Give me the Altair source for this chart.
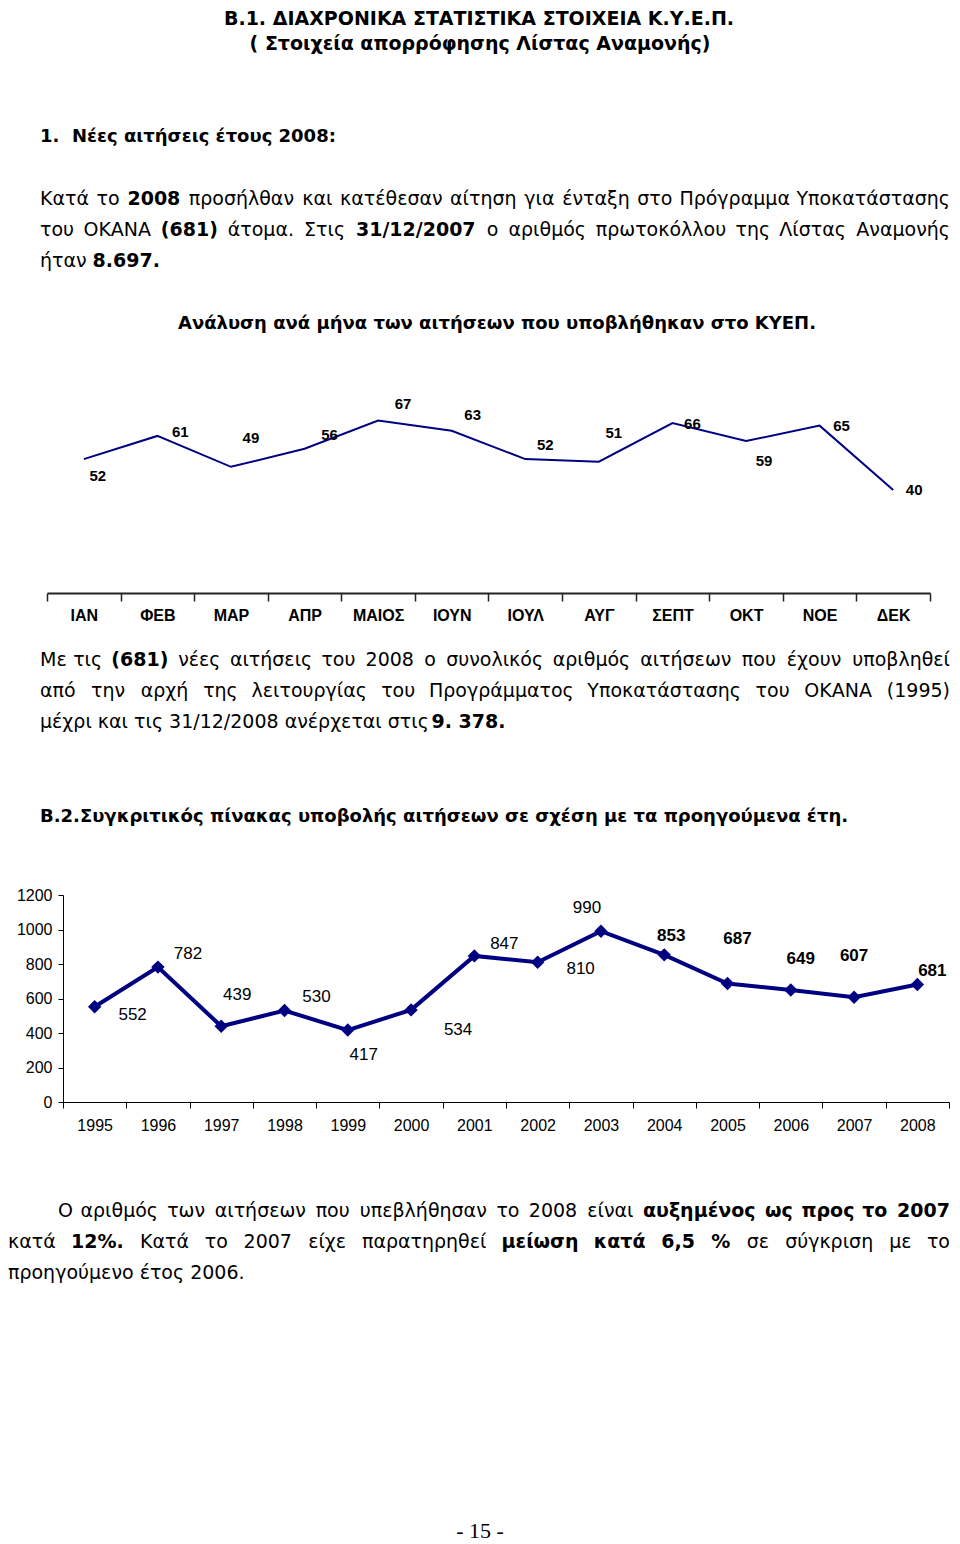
import altair as alt
import pandas as pd

# ---------------- data ----------------
MONTHS = ["ΙΑΝ", "ΦΕΒ", "ΜΑΡ", "ΑΠΡ", "ΜΑΙΟΣ", "ΙΟΥΝ", "ΙΟΥΛ", "ΑΥΓ", "ΣΕΠΤ", "ΟΚΤ", "ΝΟΕ", "ΔΕΚ"]
MONTHLY = [52, 61, 49, 56, 67, 63, 52, 51, 66, 59, 65, 40]

YEARS = ["1995", "1996", "1997", "1998", "1999", "2000", "2001",
         "2002", "2003", "2004", "2005", "2006", "2007", "2008"]
YEARLY = [552, 782, 439, 530, 417, 534, 847, 810, 990, 853, 687, 649, 607, 681]
BOLD_YEAR_LABELS = ["2004", "2005", "2006", "2007", "2008"]
Y_TICKS = [0, 200, 400, 600, 800, 1000, 1200]

TITLE_1 = "Β.1. ΔΙΑΧΡΟΝΙΚΑ ΣΤΑΤΙΣΤΙΚΑ ΣΤΟΙΧΕΙΑ Κ.Υ.Ε.Π."
TITLE_2 = "( Στοιχεία απορρόφησης Λίστας Αναμονής)"
HEAD_1 = "1.\u00a0 Νέες αιτήσεις έτους 2008:"
HEAD_CHART1 = "Ανάλυση ανά μήνα των αιτήσεων που υποβλήθηκαν στο ΚΥΕΠ."
HEAD_2 = "Β.2.Συγκριτικός πίνακας υποβολής αιτήσεων σε σχέση με τα προηγούμενα έτη."
FOOTER = "- 15 -"

P1 = [
    [("Κατά το ", False), ("2008", True),
     (" προσήλθαν και κατέθεσαν αίτηση για ένταξη στο Πρόγραμμα Υποκατάστασης", False)],
    [("του ΟΚΑΝΑ ", False), ("(681)", True), (" άτομα. Στις ", False), ("31/12/2007", True),
     (" ο αριθμός πρωτοκόλλου της Λίστας Αναμονής", False)],
    [("ήταν", False), ("8.697.", True)],
]
P2 = [
    [("Με τις ", False), ("(681)", True),
     (" νέες αιτήσεις του 2008 ο συνολικός αριθμός αιτήσεων που έχουν υποβληθεί", False)],
    [("από την αρχή της λειτουργίας του Προγράμματος Υποκατάστασης του ΟΚΑΝΑ (1995)", False)],
    [("μέχρι και τις 31/12/2008 ανέρχεται στις", False), ("9. 378.", True)],
]
P3 = [
    [("Ο αριθμός των αιτήσεων που υπεβλήθησαν το 2008 είναι ", False),
     ("αυξημένος ως προς το 2007", True)],
    [("κατά ", False), ("12%.", True), (" Κατά το 2007 είχε παρατηρηθεί ", False),
     ("μείωση κατά 6,5 %", True), (" σε σύγκριση με το", False)],
    [("προηγούμενο έτος 2006.", False)],
]

# ---------------- layout (page pixels) ----------------
W, H = 944, 1536
M = 8  # page margin


def px(v):
    return v - M


BODY_FONT = "DejaVu Sans"
BODY = 19
HEAD = 18
NAVY = "#000080"
CHART_FONT = "Liberation Sans"

# chart 1 geometry
C1_X = (47, 930)
C1_Y = (593, 387)  # value 0 -> 593, value 80 -> 387
# chart 2 geometry
C2_X = (63, 949)
C2_Y = (1102, 895)  # 0 -> 1102, 1200 -> 895

# label offsets (dx, dy) as placed in the original
C1_OFF = {"ΙΑΝ": (14, 17), "ΦΕΒ": (23, -4), "ΜΑΡ": (20, -29), "ΑΠΡ": (25, -14),
          "ΜΑΙΟΣ": (25, -16), "ΙΟΥΝ": (21, -16), "ΙΟΥΛ": (20, -14), "ΑΥΓ": (15, -29),
          "ΣΕΠΤ": (20, 1), "ΟΚΤ": (18, 20), "ΝΟΕ": (22, 0), "ΔΕΚ": (21, 0)}
C2_OFF = {"1995": (38, 8), "1996": (30, -13), "1997": (16, -31), "1998": (32, -14),
          "1999": (16, 25), "2000": (47, 20), "2001": (30, -12), "2002": (43, 7),
          "2003": (-14, -23), "2004": (7, -19), "2005": (10, -44), "2006": (10, -31),
          "2007": (0, -41), "2008": (15, -14)}

# ---------------- text helpers ----------------
CHAR_W = {' ': 0.318, '.': 0.318, ',': 0.318, ':': 0.337, '/': 0.337, '(': 0.39, ')': 0.39,
          '%': 0.95, '-': 0.361,
          'ι': 0.338, 'ί': 0.338, 'α': 0.659, 'ά': 0.659, 'ο': 0.612, 'ό': 0.612,
          'ε': 0.541, 'έ': 0.541, 'η': 0.634, 'ή': 0.634, 'ς': 0.533, 'σ': 0.635,
          'τ': 0.562, 'ν': 0.592, 'υ': 0.579, 'ύ': 0.579, 'κ': 0.579, 'ρ': 0.635,
          'π': 0.603, 'μ': 0.636, 'λ': 0.592, 'θ': 0.612, 'γ': 0.592, 'χ': 0.592,
          'ξ': 0.547, 'ω': 0.837, 'ώ': 0.837, 'β': 0.635, 'φ': 0.76, 'δ': 0.612}


def text_w(s, bold, size):
    t = 0.0
    for ch in s:
        if ch in CHAR_W:
            t += CHAR_W[ch]
        elif ch.isdigit():
            t += 0.636
        elif ch.isupper():
            t += 0.70
        else:
            t += 0.60
    return t * size * (1.1 if bold else 1.0)


rows = []


def add(text, x, y, bold, align, size=BODY, font=BODY_FONT):
    rows.append(dict(text=text, x=px(x), y=px(y), bold=bold, align=align,
                     size=size, font=font))


def add_justified(segments, y, x0, x1, size=BODY):
    words = [(w, b) for t, b in segments for w in t.split()]
    widths = [text_w(w, b, size) for w, b in words]
    gap = (x1 - x0 - sum(widths)) / (len(words) - 1)
    x = x0
    for i, ((w, b), wd) in enumerate(zip(words, widths)):
        if i == 0:
            add(w, x0, y, b, "left", size)
        elif i == len(words) - 1:
            add(w, x1, y, b, "right", size)
        else:
            add(w, x + wd / 2, y, b, "center", size)
        x += wd + gap


def add_plain(segments, y, x0, size=BODY):
    x = x0
    for t, b in segments:
        t = t.strip()
        add(t, x, y, b, "left", size)
        x += text_w(t, b, size) + 0.318 * size


add(TITLE_1, 479, 19, True, "center", 19)
add(TITLE_2, 480, 44, True, "center", 19)
add(HEAD_1, 40, 137, True, "left", HEAD)
add_justified(P1[0], 199, 40, 950)
add_justified(P1[1], 230, 40, 950)
add_plain(P1[2], 261, 40)
add(HEAD_CHART1, 497, 324, True, "center", HEAD)
add_justified(P2[0], 660, 40, 950)
add_justified(P2[1], 691, 40, 950)
add_plain(P2[2], 722, 40)
add(HEAD_2, 40, 817, True, "left", HEAD)
add_justified(P3[0], 1211, 58, 950)
add_justified(P3[1], 1242, 8, 950)
add_plain(P3[2], 1273, 8)
add(FOOTER, 480, 1531, False, "center", 22, "Liberation Serif")

tdf = pd.DataFrame(rows)

layers = []
for (bold, align, size, font), sub in tdf.groupby(["bold", "align", "size", "font"]):
    layers.append(
        alt.Chart(sub).mark_text(
            align=align, baseline="middle", fontSize=float(size), font=font,
            fontWeight="bold" if bold else "normal", color="black"
        ).encode(
            x=alt.X("x:Q", scale=None, axis=None),
            y=alt.Y("y:Q", scale=None, axis=None),
            text="text:N",
        )
    )

# ---------------- chart 1: monthly ----------------
mdf = pd.DataFrame({"month": MONTHS, "value": MONTHLY})
m_xscale = alt.Scale(domain=MONTHS, range=[px(C1_X[0]), px(C1_X[1])],
                     paddingInner=0, paddingOuter=0)
m_yscale = alt.Scale(domain=[0, 80], range=[px(C1_Y[0]), px(C1_Y[1])], nice=False)

m_axis = alt.Axis(orient="bottom", offset=px(C1_Y[0]) - H, title=None, tickBand="extent",
                  tickSize=8, tickColor="#222222", tickWidth=1.5, domainColor="#222222",
                  domainWidth=2, labelFont=CHART_FONT, labelFontSize=16,
                  labelFontWeight="bold", labelColor="black", labelPadding=6,
                  labelAngle=0, labelOverlap=False, grid=False)

layers.append(
    alt.Chart(mdf).mark_line(color=NAVY, strokeWidth=2).encode(
        x=alt.X("month:N", sort=MONTHS, scale=m_xscale, axis=m_axis),
        y=alt.Y("value:Q", scale=m_yscale, axis=None),
    )
)
for m in MONTHS:
    dx, dy = C1_OFF[m]
    layers.append(
        alt.Chart(mdf).mark_text(
            dx=dx, dy=dy, fontSize=15, font=CHART_FONT, fontWeight="bold",
            color="black", baseline="middle", align="center"
        ).transform_filter(alt.datum.month == m).encode(
            x=alt.X("month:N", sort=MONTHS, scale=m_xscale, axis=None),
            y=alt.Y("value:Q", scale=m_yscale, axis=None),
            text="value:Q",
        )
    )

# ---------------- chart 2: yearly ----------------
ydf = pd.DataFrame({"year": YEARS, "value": YEARLY})
y_xscale = alt.Scale(domain=YEARS, range=[px(C2_X[0]), px(C2_X[1])],
                     paddingInner=0, paddingOuter=0)
y_yscale = alt.Scale(domain=[0, 1200], range=[px(C2_Y[0]), px(C2_Y[1])], nice=False)

yx_axis = alt.Axis(orient="bottom", offset=px(C2_Y[0]) - H, title=None, tickBand="extent",
                   tickSize=6, tickColor="black", domainColor="black", domainWidth=1,
                   labelFont=CHART_FONT, labelFontSize=16, labelColor="black",
                   labelPadding=9, labelAngle=0, labelOverlap=False, grid=False)
yy_axis = alt.Axis(orient="left", offset=-px(C2_X[0]), title=None, values=Y_TICKS,
                   format="d", tickSize=5, tickColor="black", domainColor="black",
                   domainWidth=1, labelFont=CHART_FONT, labelFontSize=16,
                   labelColor="black", labelPadding=6, labelFlush=False,
                   labelOverlap=False, grid=False)

layers.append(
    alt.Chart(ydf).mark_line(color=NAVY, strokeWidth=4).encode(
        x=alt.X("year:N", sort=YEARS, scale=y_xscale, axis=yx_axis),
        y=alt.Y("value:Q", scale=y_yscale, axis=yy_axis),
    )
)
layers.append(
    alt.Chart(ydf).mark_point(shape="diamond", filled=True, size=180, color=NAVY,
                              opacity=1).encode(
        x=alt.X("year:N", sort=YEARS, scale=y_xscale, axis=None),
        y=alt.Y("value:Q", scale=y_yscale, axis=None),
    )
)
for yr in YEARS:
    dx, dy = C2_OFF[yr]
    layers.append(
        alt.Chart(ydf).mark_text(
            dx=dx, dy=dy, fontSize=17, font=CHART_FONT,
            fontWeight="bold" if yr in BOLD_YEAR_LABELS else "normal",
            color="black", baseline="middle", align="center"
        ).transform_filter(alt.datum.year == yr).encode(
            x=alt.X("year:N", sort=YEARS, scale=y_xscale, axis=None),
            y=alt.Y("value:Q", scale=y_yscale, axis=None),
            text="value:Q",
        )
    )

chart = alt.layer(*layers).resolve_scale(
    x="independent", y="independent"
).resolve_axis(
    x="independent", y="independent"
).properties(
    width=W, height=H, padding=0,
    autosize=alt.AutoSizeParams(type="none"),
    background="white",
).configure_view(stroke=None)

chart.save("out.html", embed_options={"renderer": "svg", "actions": False})
